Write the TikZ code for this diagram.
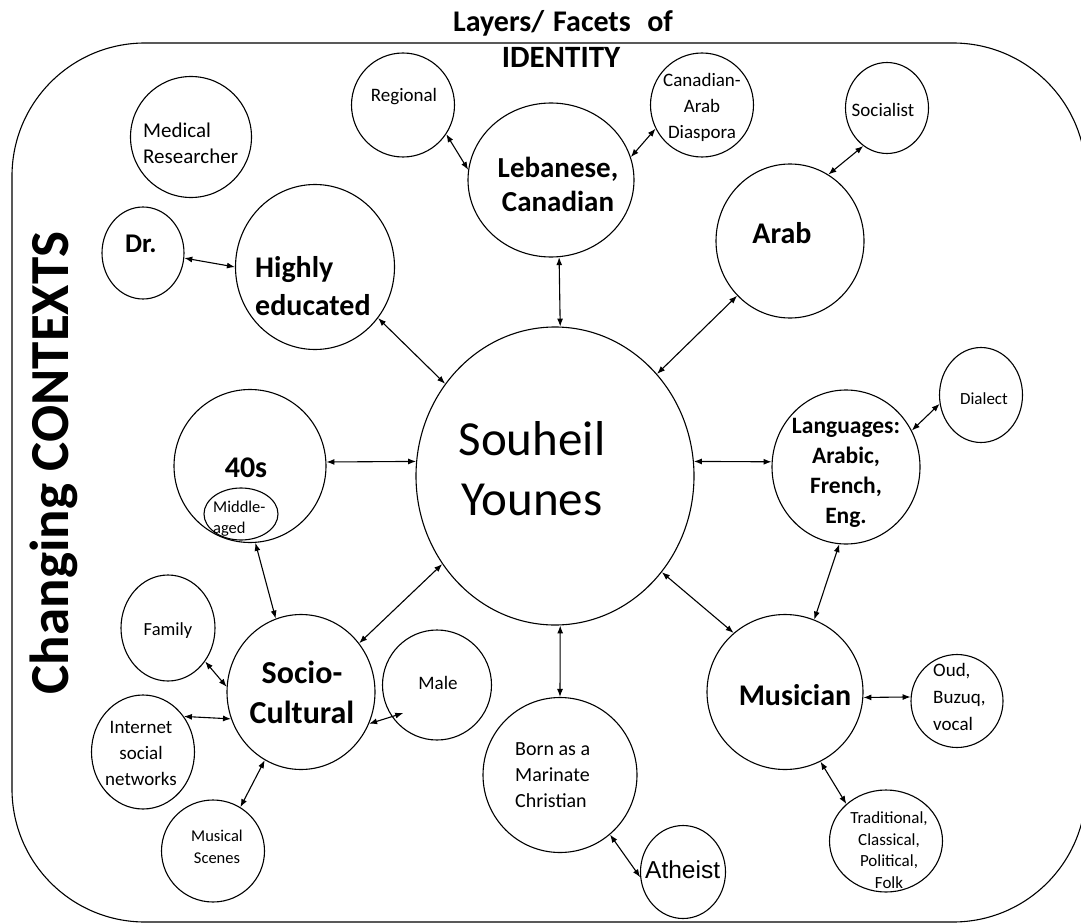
\documentclass[tikz,border=0pt]{standalone}
\usepackage{fontspec}
\setmainfont{Carlito}
\newfontfamily\arialfont{Liberation Sans}
\usetikzlibrary{arrows.meta,shapes.geometric}
\newcommand{\fsz}[2]{\fontsize{#1}{#2}\selectfont}
\begin{document}
\begin{tikzpicture}[x=1pt,y=-1pt,
  bub/.style={draw, ellipse, line width=1.1pt, inner sep=0pt},
  wh/.style 2 args={minimum width=#1pt, minimum height=#2pt},
  arr/.style={{Latex[length=8pt,width=6pt]}-{Latex[length=8pt,width=6pt]}, line width=1.1pt},
  lbl/.style={inner sep=0pt, anchor=base, align=center},
  lbll/.style={inner sep=0pt, anchor=base west, align=left},
]
\useasboundingbox (0,0) rectangle (1081,923);
\fill[white] (0,0) rectangle (1081,923);
\draw[line width=1.1pt, rounded corners=133pt] (12,43) rectangle (1086,922);

% titles
\node[lbl, font=\bfseries\fsz{30}{36}] (title1) at (563,32) {Layers/\hspace{0.3em}Facets\hspace{0.55em}of};
\node[lbl, font=\bfseries\fsz{31}{36}] (title2) at (561,68) {IDENTITY};
\node[lbl, rotate=90, font=\bfseries\fsz{55}{60}] (contexts) at (68,463) {Changing CONTEXTS};

% bubbles
\node[bub, wh={278}{298}] (souheil) at (555,476) {};
\node[bub, wh={166}{154}] (lebanese) at (551,180) {};
\node[bub, wh={103}{104}] (regional) at (403,105) {};
\node[bub, wh={103}{104}] (diaspora) at (702,105) {};
\node[bub, wh={83}{91}] (socialist) at (887,108) {};
\node[bub, wh={148}{154}] (arab) at (790,241) {};
\node[bub, wh={121}{121}] (medical) at (191,137) {};
\node[bub, wh={82}{92}] (dr) at (143,253) {};
\node[bub, wh={159}{165}] (highly) at (315,267) {};
\node[bub, wh={152}{153}] (forties) at (250,466) {};
\node[bub, wh={74}{52}] (middle) at (241,514) {};
\node[bub, wh={148}{154}] (languages) at (846,467) {};
\node[bub, wh={83}{95}] (dialect) at (981,395) {};
\node[bub, wh={148}{155}] (socio) at (301,692) {};
\node[bub, wh={94}{106}] (family) at (168,628) {};
\node[bub, wh={103}{114}] (internet) at (143,752) {};
\node[bub, wh={103}{102}] (musical) at (213,851) {};
\node[bub, wh={109}{110}] (male) at (437,685) {};
\node[bub, wh={154}{155}] (born) at (560,775) {};
\node[bub, wh={85}{93}] (atheist) at (683,872) {};
\node[bub, wh={156}{155}] (musician) at (785,692) {};
\node[bub, wh={92}{93}] (oud) at (957,701) {};
\node[bub, wh={113}{102}] (trad) at (886,841) {};

% texts (multi-line: anchor at baseline of last line)
\node[lbl, font=\fsz{49}{60}] (tsouheil) at (532,515) {Souheil\\Younes};
\node[lbl, font=\bfseries\fsz{29}{34}] (tlebanese) at (558,211) {Lebanese,\\Canadian};
\node[lbl, font=\fsz{19}{26}] (tregional) at (404,102) {Regional};
\node[lbl, font=\fsz{19}{26}] (tdiaspora) at (702,139) {Canadian-\\Arab\\Diaspora};
\node[lbl, font=\fsz{19}{26}] (tsocialist) at (883,117) {Socialist};
\node[lbl, font=\bfseries\fsz{30}{36}] (tarab) at (782,243) {Arab};
\node[lbll, font=\fsz{21}{26}] (tmedical) at (143,163) {Medical\\Researcher};
\node[lbll, font=\bfseries\fsz{27}{32}] (tdr) at (125,252) {Dr.};
\node[lbll, font=\bfseries\fsz{30}{38}] (thighly) at (255,315) {Highly\\educated};
\node[lbl, font=\bfseries\fsz{30}{36}] (tforties) at (246,477) {40s};
\node[lbll, font=\fsz{16.5}{21}] (tmiddle) at (213,533) {Middle-\\aged};
\node[lbl, font=\bfseries\fsz{23.5}{30}] (tlanguages) at (846,523) {Languages:\\Arabic,\\French,\\Eng.};
\node[lbl, font=\fsz{17}{22}] (tdialect) at (984,404) {Dialect};
\node[lbl, font=\bfseries\fsz{32}{40}] (tsocio) at (302,723) {Socio-\\Cultural};
\node[lbl, font=\fsz{18.5}{24}] (tfamily) at (168,635) {Family};
\node[lbl, font=\fsz{19}{26}] (tinternet) at (141,785) {Internet\\social\\networks};
\node[lbl, font=\fsz{16.5}{22}] (tmusical) at (217,863) {Musical\\Scenes};
\node[lbl, font=\fsz{19}{26}] (tmale) at (438,689) {Male};
\node[lbll, font=\fsz{20}{26}] (tborn) at (515,807) {Born as a\\Marinate\\Christian};
\node[lbll, font=\arialfont\fsz{24.5}{30}] (tatheist) at (645,878) {Atheist};
\node[lbl, font=\bfseries\fsz{30}{36}] (tmusician) at (795,705) {Musician};
\node[lbll, font=\fsz{19}{27}] (toud) at (933,730) {Oud,\\Buzuq,\\vocal};
\node[lbl, font=\fsz{17}{21.5}] (ttrad) at (889,888) {Traditional,\\Classical,\\Political,\\Folk};

% connectors
\draw[arr] (dr.-7) -- (highly.180);
\draw[arr] (highly.-39) -- (souheil.140);
\draw[arr] (regional.-34) -- (lebanese.173);
\draw[arr] (lebanese.16) -- (diaspora.207);
\draw[arr] (lebanese.-84) -- (souheil.88);
\draw[arr] (arab.60) -- (socialist.238);
\draw[arr] (arab.226) -- (souheil.45);
\draw[arr] (forties.3) -- (souheil.174);
\draw[arr] (souheil.6) -- (languages.176);
\draw[arr] (languages.29) -- (dialect.192);
\draw[arr] (languages.265) -- (musician.68);
\draw[arr] (souheil.-42) -- (musician.131);
\draw[arr] (souheil.-88) -- (born.90);
\draw[arr] (souheil.218) -- (socio.40);
\draw[arr] (forties.-86) -- (socio.109);
\draw[arr] (family.-42) -- (socio.176);
\draw[arr] (internet.41) -- (socio.201);
\draw[arr, shorten >=-12pt] (socio.-25) -- (male.215);
\draw[arr] (socio.242) -- (musical.58);
\draw[arr] (born.-50) -- (atheist.187);
\draw[arr] (musician.-4) -- (oud.175);
\draw[arr] (musician.-63) -- (trad.137);
\end{tikzpicture}
\end{document}
